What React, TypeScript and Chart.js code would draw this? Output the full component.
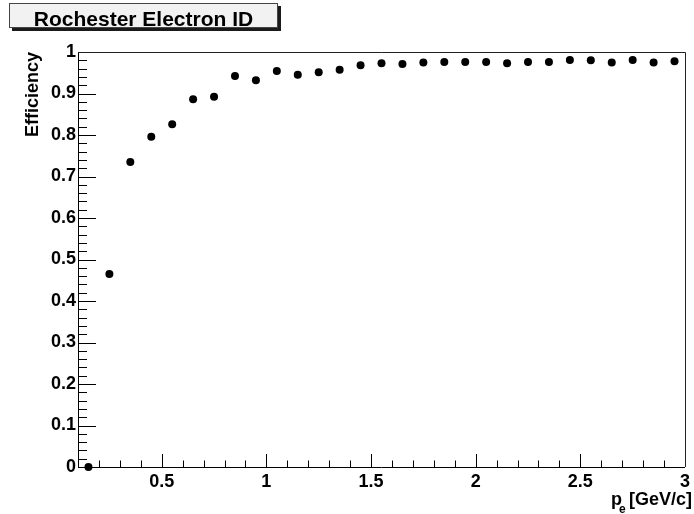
import React, { useEffect, useRef } from "react";
import { Chart, registerables } from "chart.js";

Chart.register(...registerables);

const TITLE = "Rochester Electron ID";
const Y_TITLE = "Efficiency";
const X_TITLE_MAIN = "p";
const X_TITLE_SUB = "e";
const X_TITLE_UNIT = "[GeV/c]";

const momentum = [
  0.15, 0.25, 0.35, 0.45, 0.55, 0.65, 0.75, 0.85, 0.95, 1.05, 1.15, 1.25, 1.35, 1.45, 1.55,
  1.65, 1.75, 1.85, 1.95, 2.05, 2.15, 2.25, 2.35, 2.45, 2.55, 2.65, 2.75, 2.85, 2.95,
];
const efficiency = [
  0, 0.465, 0.735, 0.796, 0.826, 0.886, 0.892, 0.942, 0.932, 0.954, 0.945, 0.951, 0.957, 0.968, 0.973,
  0.971, 0.975, 0.976, 0.976, 0.976, 0.973, 0.976, 0.976, 0.981, 0.98, 0.975, 0.981, 0.975, 0.978,
];

const X_MIN = 0.1;
const X_MAX = 3;
const Y_MIN = 0;
const Y_MAX = 1;
const X_LABELS = [0.5, 1, 1.5, 2, 2.5, 3];

const FONT = "'Liberation Sans', Arial, Helvetica, sans-serif";

const rootPlugin = {
  id: "rootStyle",
  beforeDatasetsDraw(chart: any) {
    const { ctx, chartArea, scales } = chart;
    const xs = scales.x;
    const ys = scales.y;
    ctx.save();
    ctx.strokeStyle = "#000";
    ctx.lineWidth = 1;
    // x ticks (inside, upward)
    for (let i = 2; i <= 29; i++) {
      const v = i / 10;
      const px = Math.round(xs.getPixelForValue(v)) + 0.5;
      const len = i % 5 === 0 ? 13 : 6.5;
      ctx.beginPath();
      ctx.moveTo(px, chartArea.bottom);
      ctx.lineTo(px, chartArea.bottom - len);
      ctx.stroke();
    }
    // y ticks (inside, rightward)
    for (let i = 1; i <= 50; i++) {
      const v = i / 50;
      const py = Math.round(ys.getPixelForValue(v)) + 0.5;
      const len = i % 5 === 0 ? 18 : 9;
      ctx.beginPath();
      ctx.moveTo(chartArea.left, py);
      ctx.lineTo(chartArea.left + len, py);
      ctx.stroke();
    }
    // frame top / right
    ctx.strokeStyle = "#222";
    ctx.beginPath();
    ctx.moveTo(chartArea.left, Math.round(chartArea.top) + 0.5);
    ctx.lineTo(Math.round(chartArea.right) + 0.5, Math.round(chartArea.top) + 0.5);
    ctx.lineTo(Math.round(chartArea.right) + 0.5, chartArea.bottom);
    ctx.stroke();
    ctx.restore();
  },
  afterDraw(chart: any) {
    const { ctx } = chart;
    ctx.save();
    // title box with shadow
    const bx = 9, by = 3, bw = 269, bh = 25;
    ctx.fillStyle = "#1a1a1a";
    ctx.fillRect(bx + 3, by + 3, bw, bh);
    ctx.fillStyle = "#f2f2f2";
    ctx.fillRect(bx, by, bw, bh);
    ctx.strokeStyle = "#444";
    ctx.lineWidth = 1;
    ctx.strokeRect(bx + 0.5, by + 0.5, bw - 1, bh - 1);
    ctx.fillStyle = "#000";
    ctx.font = `bold 21px ${FONT}`;
    ctx.textAlign = "center";
    ctx.textBaseline = "alphabetic";
    ctx.fillText(TITLE, bx + bw / 2, 26);

    // x axis title with subscript
    const right = 692;
    const base = 505;
    ctx.font = `bold 18px ${FONT}`;
    ctx.textAlign = "right";
    ctx.fillText(X_TITLE_UNIT, right, base);
    const uw = ctx.measureText(X_TITLE_UNIT).width;
    const unitLeft = right - uw;
    ctx.font = `bold 12px ${FONT}`;
    ctx.textAlign = "left";
    ctx.fillText(X_TITLE_SUB, unitLeft - 10, base + 8);
    ctx.font = `bold 18px ${FONT}`;
    ctx.textAlign = "right";
    ctx.fillText(X_TITLE_MAIN, unitLeft - 7, base);
    ctx.restore();
  },
};

export default function App() {
  const ref = useRef<HTMLCanvasElement | null>(null);

  useEffect(() => {
    document.body.style.margin = "0";
    const canvas = ref.current;
    if (!canvas) return;
    const points = momentum.map((x, i) => ({ x, y: efficiency[i] }));
    const chart = new Chart(canvas, {
      type: "scatter",
      data: {
        datasets: [
          {
            data: points,
            backgroundColor: "#000",
            borderColor: "#000",
            borderWidth: 0,
            pointRadius: 4,
            pointHoverRadius: 4,
            clip: false,
          } as any,
        ],
      },
      options: {
        animation: false,
        responsive: false,
        devicePixelRatio: 1,
        layout: { padding: { left: 0, top: 52, right: 2, bottom: 0 } },
        plugins: {
          legend: { display: false },
          tooltip: { enabled: false },
          title: { display: false },
        },
        scales: {
          x: {
            type: "linear",
            min: X_MIN,
            max: X_MAX,
            grid: { display: false, drawTicks: false },
            border: { display: true, color: "#000", width: 1 },
            afterBuildTicks: (scale: any) => {
              scale.ticks = X_LABELS.map((v) => ({ value: v }));
            },
            ticks: {
              autoSkip: false,
              maxRotation: 0,
              padding: 4,
              color: "#000",
              font: { family: FONT, size: 18, weight: "bold" },
              callback: (v: any) => String(v),
            },
            afterFit: (scale: any) => {
              scale.height = 47;
            },
          },
          y: {
            type: "linear",
            min: Y_MIN,
            max: Y_MAX,
            grid: { display: false, drawTicks: false },
            border: { display: true, color: "#000", width: 1 },
            ticks: {
              stepSize: 0.1,
              autoSkip: false,
              padding: 2,
              color: "#000",
              font: { family: FONT, size: 18, weight: "bold" },
              callback: (v: any) => String(Math.round(Number(v) * 10) / 10),
            },
            title: {
              display: true,
              text: Y_TITLE,
              align: "end",
              color: "#000",
              font: { family: FONT, size: 18, weight: "bold", lineHeight: 1.2 },
              padding: { top: 21.8, bottom: 0 },
            },
            afterFit: (scale: any) => {
              scale.width = 78;
            },
          },
        },
      } as any,
      plugins: [rootPlugin],
    });
    return () => chart.destroy();
  }, []);

  return (
    <div style={{ width: 694, height: 514 }}>
      <canvas ref={ref} width={694} height={514} style={{ display: "block", width: 694, height: 514 }} />
    </div>
  );
}
